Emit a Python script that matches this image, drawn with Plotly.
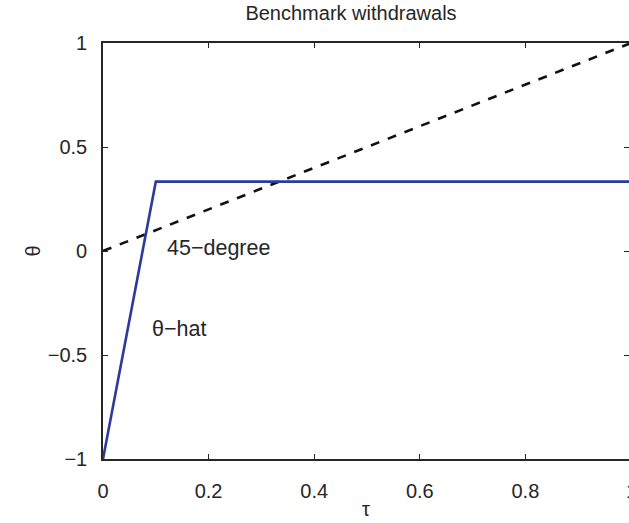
import plotly.graph_objects as go

# Data
tau_hat = [0.0, 0.1, 1.0]
theta_hat = [-1.0, 1/3, 1/3]
tau_45 = [0.0, 1.0]
theta_45 = [0.0, 1.0]
x_ticks = [0, 0.2, 0.4, 0.6, 0.8]
x_ticklabels = ["0", "0.2", "0.4", "0.6", "0.8"]
y_ticks = [-1, -0.5, 0, 0.5, 1]
y_ticklabels = ["\u22121", "\u22120.5", "0", "0.5", "1"]

FONT = "Liberation Sans, Arial, sans-serif"
TXT = "#262626"
AX = "#262626"
BLUE = "#2b3a9c"
FS = 20

xmax = 526 / 528

fig = go.Figure()
fig.add_trace(go.Scatter(x=tau_45, y=theta_45, mode="lines",
                         line=dict(color="#111111", width=2.6, dash="dash"),
                         showlegend=False, hoverinfo="skip"))
fig.add_trace(go.Scatter(x=tau_hat, y=theta_hat, mode="lines",
                         line=dict(color=BLUE, width=2.6),
                         showlegend=False, hoverinfo="skip"))
fig.add_trace(go.Scatter(x=[None], y=[None], xaxis="x2", yaxis="y2",
                         showlegend=False, hoverinfo="skip"))

axis_common = dict(showgrid=False, zeroline=False, ticks="inside", ticklen=5,
                   tickwidth=1.2, tickcolor=AX, linecolor=AX, linewidth=1.6)

fig.update_layout(
    width=629, height=523,
    margin=dict(l=103, r=0, t=43, b=64),
    paper_bgcolor="white", plot_bgcolor="white",
    font=dict(family=FONT, size=FS, color=TXT),
    title=dict(text="Benchmark withdrawals", x=351 / 629, xanchor="center",
               y=1 - 13 / 523, yanchor="middle", font=dict(size=FS, color=TXT)),
    xaxis=dict(range=[0, xmax], tickvals=x_ticks, ticktext=x_ticklabels,
               showline=True, ticklabelstandoff=13,
               title=dict(text="\u03c4", standoff=1, font=dict(size=FS)),
               **axis_common),
    xaxis2=dict(range=[0, xmax], tickvals=x_ticks, overlaying="x", side="top",
                showticklabels=False, showline=True, anchor="y", **axis_common),
    yaxis=dict(range=[-1, 1], tickvals=y_ticks, ticktext=y_ticklabels,
               showline=True, ticklabelstandoff=10,
               title=dict(text="\u03b8", standoff=2, font=dict(size=FS)),
               **axis_common),
    yaxis2=dict(range=[-1, 1], tickvals=y_ticks, overlaying="y", side="right",
                showticklabels=False, showline=False, anchor="x", **axis_common),
    annotations=[
        dict(text="45\u2212degree", x=0.117, y=0.015, xref="x", yref="y",
             xanchor="left", yanchor="middle", showarrow=False,
             font=dict(size=21.5, color=TXT)),
        dict(text="\u03b8\u2212hat", x=0.089, y=-0.375, xref="x", yref="y",
             xanchor="left", yanchor="middle", showarrow=False,
             font=dict(size=21.5, color=TXT)),
        dict(text="1", x=1 / xmax, y=0, xref="paper", yref="paper",
             xanchor="center", yanchor="top", yshift=-19, showarrow=False,
             font=dict(size=FS, color=TXT)),
    ],
)

fig.write_html("out.html")
